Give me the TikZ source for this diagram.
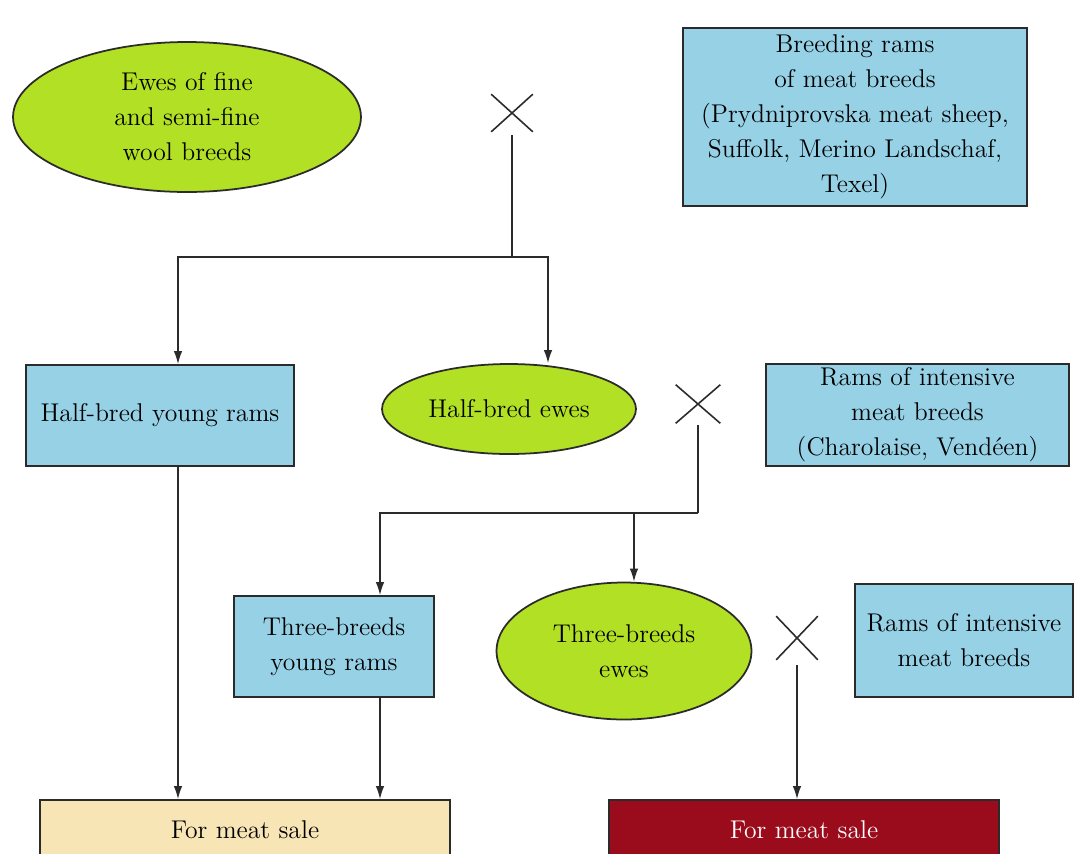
\documentclass[tikz,border=0pt]{standalone}
\usepackage{fontspec}
\usetikzlibrary{shapes.geometric, shapes.misc, arrows.meta, positioning, calc}
\definecolor{ewegreen}{HTML}{B2E024}
\definecolor{ramblue}{HTML}{96D1E6}
\definecolor{salewheat}{HTML}{F7E5B6}
\definecolor{salered}{HTML}{9A0B1C}
\definecolor{edgedark}{HTML}{2B2B2B}
\newcommand{\labelsize}{\fontsize{14.6}{19.9}\selectfont}

\begin{document}
\begin{tikzpicture}[
  x=0.02cm, y=-0.02cm,
  ewe/.style={ellipse, draw=edgedark, line width=1pt, fill=ewegreen, align=center, inner sep=0pt, font=\labelsize},
  ram/.style={rectangle, draw=edgedark, line width=1pt, fill=ramblue, align=center, inner sep=0pt, font=\labelsize},
  sale/.style={rectangle, draw=edgedark, line width=1pt, fill=#1, minimum height=1.2cm, font=\labelsize},
  crossmark/.style={cross out, draw=edgedark, line width=0.9pt, minimum width=0.8cm, minimum height=0.72cm, inner sep=0pt},
  arrow/.style={-{Latex[length=2.6mm, width=1.7mm]}, line width=0.8pt, color=edgedark},
  link/.style={line width=0.8pt, color=edgedark}
]
  \useasboundingbox (0,0) rectangle (1075,853);
  \fill[white] (0,0) rectangle (1075,853);

  % Parent flocks
  \node[ewe, minimum width=6.96cm, minimum height=3cm] (fineewes) at (187,117) {Ewes of fine\\and semi-fine\\wool breeds};
  \node[crossmark] (cross1) at (512,113) {};
  \node[ram, minimum width=6.88cm, minimum height=3.56cm] (meatrams) at (855,117) {Breeding rams\\of meat breeds\\(Prydniprovska meat sheep,\\Suffolk, Merino Landschaf,\\Texel)};

  % Half-bred offspring
  \node[ram, minimum width=5.36cm, minimum height=2.02cm] (halframs) at (160,415.5) {Half-bred young rams};
  \node[ewe, minimum width=5.08cm, minimum height=1.8cm] (halfewes) at (509,409) {Half-bred ewes};
  \node[crossmark, minimum width=0.86cm, minimum height=0.74cm] (cross2) at (698,404) {};
  \node[ram, minimum width=6.06cm, minimum height=2.04cm] (charrams) at (917.5,415) {Rams of intensive\\meat breeds\\(Charolaise, Vendéen)};

  % Three-breed offspring
  \node[ram, minimum width=4cm, minimum height=2.02cm] (threerams) at (334,646.5) {Three-breeds\\young rams};
  \node[ewe, minimum width=5.1cm, minimum height=2.74cm] (threeewes) at (624,651) {Three-breeds\\ewes};
  \node[crossmark, minimum height=0.84cm] (cross3) at (797,638) {};
  \node[ram, minimum width=4.36cm, minimum height=2.26cm] (intrams) at (964,640.5) {Rams of intensive\\meat breeds};

  % Sale
  \node[sale=salewheat, minimum width=8.2cm] (saleleft) at (245,830) {For meat sale};
  \node[sale=salered, text=white, minimum width=7.8cm] (saleright) at (804,830) {For meat sale};

  % Junctions
  \coordinate (join1) at (512,257);
  \coordinate (join2) at (698,513);
  \coordinate (halfout) at ([xshift=0.36cm]halframs.south);
  \coordinate (threeout) at ([xshift=0.92cm]threerams.south);
  \coordinate (ewesin) at ([xshift=0.2cm]threeewes.north);

  % Arrows
  \draw[link, shorten <=2pt] (cross1.south) -- (join1);
  \draw[arrow] (join1) -| ([xshift=0.36cm]halframs.north);
  \draw[arrow] (join1) -| ([xshift=0.78cm]halfewes.north);
  \draw[link, shorten <=1pt] (cross2.south) -- (join2);
  \draw[arrow] (join2) -| ([xshift=0.92cm]threerams.north);
  \draw[arrow] (ewesin |- join2) -- (ewesin);
  \draw[arrow] (halfout) -- (halfout |- saleleft.north);
  \draw[arrow] (threeout) -- (threeout |- saleleft.north);
  \draw[arrow, shorten <=3pt] (cross3.south) -- (cross3.south |- saleright.north);
\end{tikzpicture}
\end{document}
